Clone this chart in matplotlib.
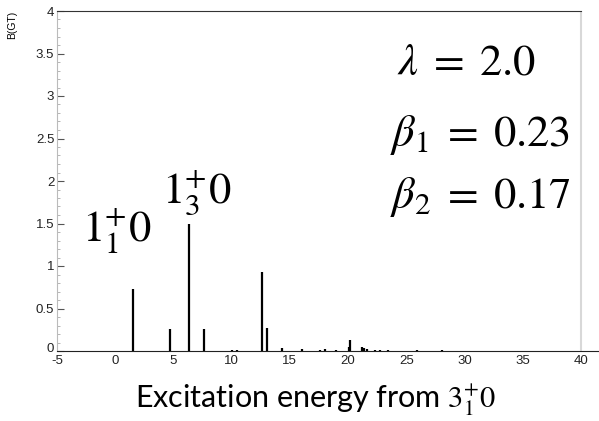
import matplotlib
matplotlib.use('Agg')
import matplotlib.pyplot as plt
import matplotlib.transforms as mtransforms
import numpy as np

# B(GT) strengths vs excitation energy
energy = [1.5, 4.73, 6.34, 7.66, 10.0, 10.5, 12.6, 13.07, 14.3, 16.05,
          17.6, 18.0, 19.0, 20.05, 20.2, 21.2, 21.4, 21.6, 22.3, 22.7,
          23.4, 24.3, 25.9, 28.1, 30.5, 31.1, 31.8]
bgt = [0.73, 0.26, 1.50, 0.26, 0.012, 0.006, 0.93, 0.27, 0.035, 0.02,
       0.012, 0.02, 0.01, 0.05, 0.13, 0.05, 0.03, 0.02, 0.012, 0.012,
       0.01, 0.005, 0.01, 0.01, 0.005, 0.005, 0.005]

yticks = [0, 0.5, 1, 1.5, 2, 2.5, 3, 3.5, 4]
ytick_labels = ['0', '0.5', '1', '1.5', '2', '2.5', '3', '3.5', '4']
xticks = [-5, 0, 5, 10, 15, 20, 25, 30, 35, 40]

plt.rcParams['mathtext.fontset'] = 'stix'

fig = plt.figure(figsize=(5.99, 4.21), dpi=100)
ax = fig.add_axes([57/599, 70/421, 542/599, 340/421])

ax.vlines(energy, 0, bgt, color='black', linewidth=1.6)

ax.set_xlim(-5, 41.55)
ax.set_ylim(0, 4)
ax.set_xticks(xticks)
ax.set_xticklabels([str(t) for t in xticks])
ax.set_yticks(yticks)
ax.set_yticklabels(ytick_labels)
ax.set_yticks(np.arange(0, 4.01, 0.1), minor=True)
ax.tick_params(axis='both', which='both', labelsize=9.5, colors='#555555',
               labelcolor='#222222', direction='in')
ax.tick_params(axis='y', which='major', length=5, pad=2)
ax.tick_params(axis='y', which='minor', length=2.5, color='#aaaaaa')
ax.tick_params(axis='x', which='major', length=0, pad=3)
for lab in ax.get_xticklabels() + ax.get_yticklabels():
    lab.set_family('Liberation Sans')
# ROOT draws the "0" of the y axis a little raised
zero_lab = ax.get_yticklabels()[0]
zero_lab.set_transform(zero_lab.get_transform() +
                       mtransforms.ScaledTranslation(0, 3/100, fig.dpi_scale_trans))

ax.spines['right'].set_visible(False)
ax.spines['left'].set_color('#bbbbbb')
ax.spines['top'].set_bounds(-5, 40)
ax.spines['top'].set_color('#333333')
ax.spines['bottom'].set_color('#222222')
ax.axvline(40, color='#d8d8d8', linewidth=1.5)

fig.text(12/599, 1 - 25/421, 'B(GT)', rotation=90, fontsize=7.5,
         family='Liberation Sans', ha='center', va='center')

big = 32
ax.text(-2.85, 1.29, r'$1^{+}_{1}0$', fontsize=big, ha='left', va='baseline')
ax.text(4.0, 1.74, r'$1^{+}_{3}0$', fontsize=big, ha='left', va='baseline')
ax.text(24.2, 3.25, r'$\lambda\;=\;2.0$', fontsize=big, ha='left', va='baseline')
ax.text(23.6, 2.41, r'$\beta_1\;=\;0.23$', fontsize=big, ha='left', va='baseline')
ax.text(23.6, 1.68, r'$\beta_2\;=\;0.17$', fontsize=big, ha='left', va='baseline')

fig.text(316/599, 1 - 400/421, r'Excitation energy from $3^{+}_{1}0$',
         fontsize=22, family='Lato', ha='center', va='center')

fig.savefig('out.png', dpi=100)
